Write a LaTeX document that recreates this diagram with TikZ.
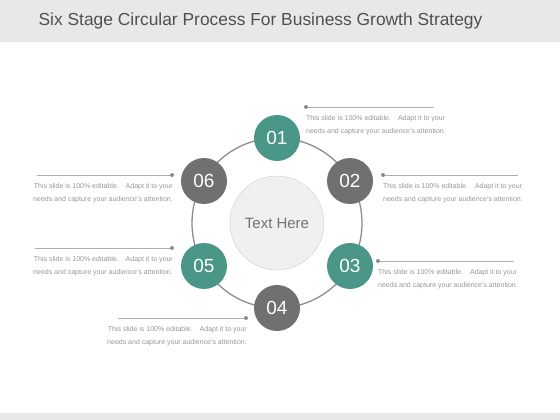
\documentclass[tikz,border=0pt]{standalone}
\usepackage{fontspec}
\setmainfont{Liberation Sans}
\usetikzlibrary{positioning}
\definecolor{bandgray}{RGB}{232,232,232}
\definecolor{titlegray}{RGB}{80,80,80}
\definecolor{stageteal}{RGB}{74,150,137}
\definecolor{stagegray}{RGB}{112,112,112}
\definecolor{ringgray}{RGB}{140,140,140}
\definecolor{notegray}{RGB}{150,150,150}
\definecolor{leadgray}{RGB}{175,175,175}
\tikzstyle{stage} = [
    circle,
    minimum size=46pt,
    inner sep=0pt,
    text=white,
    font=\fontsize{19}{19}\selectfont
]
\tikzstyle{hub} = [
    circle,
    minimum size=94pt,
    inner sep=0pt,
    draw=black!20,
    fill=black!6,
    text=black!55,
    font=\fontsize{15}{15}\selectfont
]
\tikzstyle{dot} = [
    circle,
    minimum size=4pt,
    inner sep=0pt,
    fill=ringgray
]
\tikzstyle{leader} = [
    line width=0.8pt,
    color=leadgray
]
\tikzstyle{note} = [
    inner sep=0pt,
    text=notegray,
    font=\fontsize{7}{13.5}\selectfont
]

\begin{document}
\begin{tikzpicture}[x=1pt, y=-1pt]
        \useasboundingbox (0,0) rectangle (560,420);
        \fill[bandgray] (0,0) rectangle (560,42);
        \fill[bandgray] (0,413) rectangle (560,420);
        \node[text=titlegray, font=\fontsize{17.4}{17.4}\selectfont] (title) at (260.5,21) {Six Stage Circular Process For Business Growth Strategy};

        \coordinate (c) at (277,223);
        \draw[ringgray, line width=1.3pt] (c) circle (85);
        \node[hub] (hub) at (c) {Text Here};
        \node[stage, fill=stageteal] (s1) at (277,138) {01};
        \node[stage, fill=stagegray] (s2) at (350,181) {02};
        \node[stage, fill=stageteal] (s3) at (350,266) {03};
        \node[stage, fill=stagegray] (s4) at (277,308) {04};
        \node[stage, fill=stageteal] (s5) at (204,266) {05};
        \node[stage, fill=stagegray] (s6) at (204,181) {06};

        % right side notes
        \node[dot] (d1) at (306,107) {};
        \coordinate (e1) at (434,107);
        \draw[leader] (d1) -- (e1);
        \node[note, below=6pt of d1, anchor=north west, align=left] (n1) {This slide is 100\% editable.\quad Adapt it to your\\needs and capture your audience's attention.};

        \node[dot] (d2) at (383,175) {};
        \coordinate (e2) at (518,175);
        \draw[leader] (d2) -- (e2);
        \node[note, below=6pt of d2, anchor=north west, align=left] (n2) {This slide is 100\% editable.\quad Adapt it to your\\needs and capture your audience's attention.};

        \node[dot] (d3) at (378,261) {};
        \coordinate (e3) at (514,261);
        \draw[leader] (d3) -- (e3);
        \node[note, below=6pt of d3, anchor=north west, align=left] (n3) {This slide is 100\% editable.\quad Adapt it to your\\needs and capture your audience's attention.};

        % left side notes
        \node[dot] (d4) at (246,318) {};
        \coordinate (e4) at (118,318);
        \draw[leader] (e4) -- (d4);
        \node[note, below=6pt of d4, anchor=north east, xshift=1pt, align=right] (n4) {This slide is 100\% editable.\quad Adapt it to your\\needs and capture your audience's attention.};

        \node[dot] (d5) at (172,248) {};
        \coordinate (e5) at (35,248);
        \draw[leader] (e5) -- (d5);
        \node[note, below=6pt of d5, anchor=north east, xshift=1pt, align=right] (n5) {This slide is 100\% editable.\quad Adapt it to your\\needs and capture your audience's attention.};

        \node[dot] (d6) at (172,175) {};
        \coordinate (e6) at (37,175);
        \draw[leader] (e6) -- (d6);
        \node[note, below=6pt of d6, anchor=north east, xshift=1pt, align=right] (n6) {This slide is 100\% editable.\quad Adapt it to your\\needs and capture your audience's attention.};
    \end{tikzpicture}
\end{document}
